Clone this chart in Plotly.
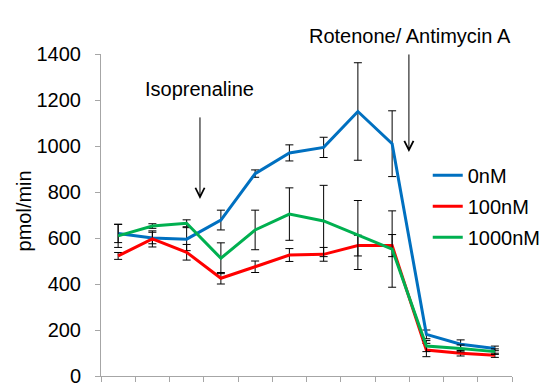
import plotly.graph_objects as go

# Time points (measurement cycles)
cycles = list(range(1, 13))

# Oxygen consumption rate, pmol/min, per treatment
ocr_0nM = [620, 600, 595, 678, 880, 970, 994, 1150, 1010, 181, 138, 120]
err_0nM = [40, 25, 50, 43, 16, 35, 44, 212, 143, 19, 19, 10]

ocr_100nM = [522, 596, 538, 425, 475, 526, 529, 567, 567, 113, 99, 90]
err_100nM = [15, 35, 34, 25, 25, 28, 30, 45, 48, 29, 12, 9]

ocr_1000nM = [609, 652, 664, 512, 635, 704, 674, 613, 552, 130, 120, 106]
err_1000nM = [50, 10, 15, 67, 86, 114, 155, 150, 166, 24, 15, 12]

series_names = ["0nM", "100nM", "1000nM"]
series_colors = ["#0070C0", "#FF0000", "#00B050"]

FONT = "Liberation Sans, Arial, sans-serif"
FS = 20

fig = go.Figure()
for name, ys, errs, color in zip(series_names,
                                 [ocr_0nM, ocr_100nM, ocr_1000nM],
                                 [err_0nM, err_100nM, err_1000nM],
                                 series_colors):
    fig.add_trace(go.Scatter(
        x=cycles, y=ys, name=name, mode="lines",
        line=dict(color=color, width=3),
        legendgroup=name,
        error_y=dict(type="data", array=errs, visible=True,
                     color="black", thickness=1, width=4),
    ))

# Injection markers
fig.add_annotation(x=3.39, y=770, xref="x", yref="y", ax=0, ay=-83,
                   showarrow=True, arrowhead=5, arrowsize=1.8, arrowwidth=1,
                   arrowcolor="black", text="")
fig.add_annotation(x=3.39, y=0.89, xref="x", yref="paper", yanchor="middle",
                   text="Isoprenaline", showarrow=False,
                   font=dict(family=FONT, size=FS, color="black"))
fig.add_annotation(x=9.49, y=974, xref="x", yref="y", ax=0, ay=-99,
                   showarrow=True, arrowhead=5, arrowsize=1.8, arrowwidth=1,
                   arrowcolor="black", text="")
fig.add_annotation(x=9.52, y=1.056, xref="x", yref="paper", yanchor="middle",
                   text="Rotenone/ Antimycin A", showarrow=False,
                   font=dict(family=FONT, size=FS, color="black"))

# Y-axis title
fig.add_annotation(x=-0.185, y=0.514, xref="paper", yref="paper",
                   xanchor="center", yanchor="middle", textangle=-90,
                   text="pmol/min", showarrow=False,
                   font=dict(family=FONT, size=FS, color="black"))

axis_gray = "#A6A6A6"
fig.update_layout(
    width=547, height=383,
    margin=dict(l=101, r=35, t=54, b=7, autoexpand=False),
    paper_bgcolor="white", plot_bgcolor="white",
    font=dict(family=FONT, size=FS, color="black"),
    showlegend=True,
    legend=dict(x=0.795, y=0.684, xanchor="left", yanchor="top",
                bgcolor="rgba(0,0,0,0)", tracegroupgap=2,
                font=dict(family=FONT, size=FS, color="black")),
    xaxis=dict(range=[0.5, 12.5], tickmode="array",
               tickvals=[v + 0.5 for v in range(0, 13)],
               showticklabels=False, ticks="outside", ticklen=5,
               tickcolor=axis_gray, showline=True, linecolor=axis_gray,
               linewidth=1, showgrid=False, zeroline=False, automargin=False),
    yaxis=dict(range=[0, 1400], dtick=200, ticks="outside", ticklen=5,
               tickcolor=axis_gray, showline=True, linecolor=axis_gray,
               linewidth=1, showgrid=False, zeroline=False, automargin=False,
               ticklabelstandoff=10, ticklabeloverflow="allow",
               tickfont=dict(family=FONT, size=FS, color="black")),
)

fig.write_html("out.html")
